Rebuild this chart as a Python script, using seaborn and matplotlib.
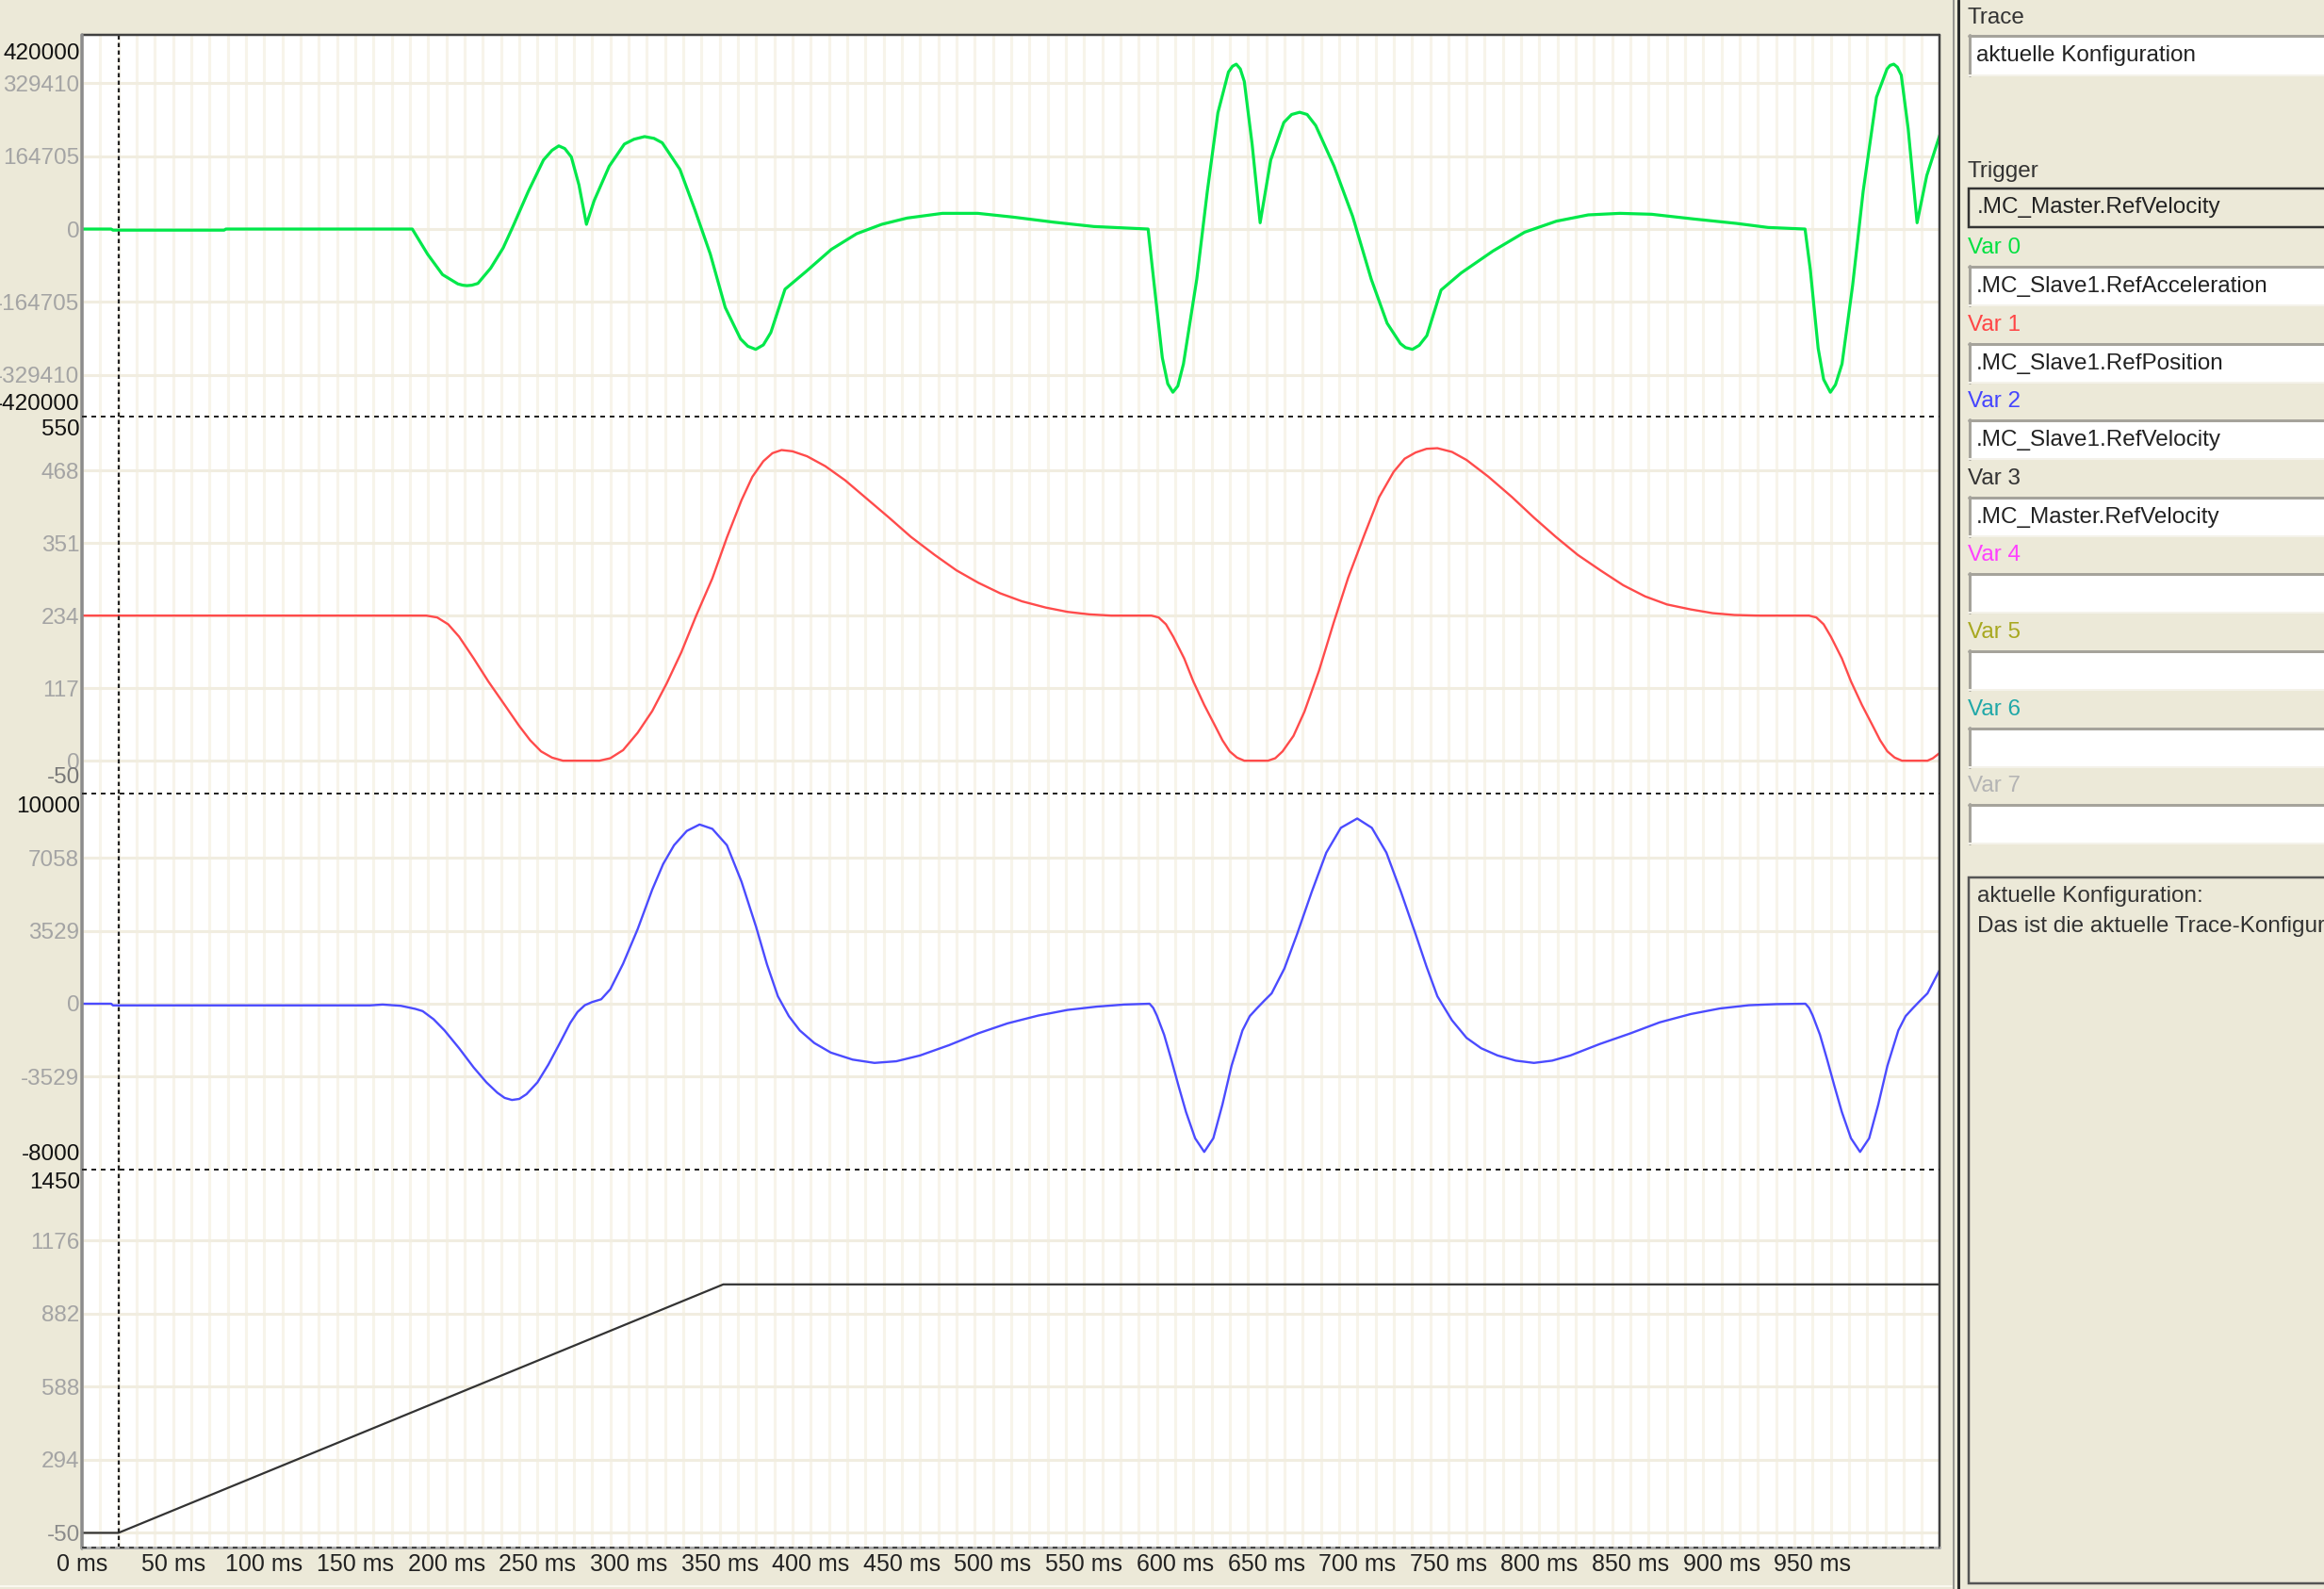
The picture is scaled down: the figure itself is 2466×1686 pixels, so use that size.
import numpy as np
import matplotlib
matplotlib.use("Agg")
import matplotlib.pyplot as plt
import seaborn as sns
from matplotlib.patches import Rectangle
from matplotlib.lines import Line2D

# ------------------------------------------------------------------ data
# Var 0 : .MC_Slave1.RefAcceleration  (time in ms)
acc_t = [0, 16, 17, 78, 79, 181.3, 189.7, 197.9, 206.3, 209.0, 211.3, 214.0, 217.3, 224.3, 231.2, 236.7,
         245.0, 253.3, 258.0, 261.7, 265.0, 268.6, 272.8, 276.9, 281.1, 289.4, 297.7, 303.0, 308.8, 314.0,
         318.5, 328.2, 336.5, 344.9, 353.1, 361.5, 365.5, 369.8, 374.0, 378.1, 385.9, 397.5, 411.3, 425.2,
         439.0, 452.9, 472.3, 491.7, 511.1, 533.2, 555.4, 585.2, 588.6, 593.0, 596.0, 598.8, 601.5, 604.6,
         611.9, 617.7, 623.5, 629.3, 631.5, 633.6, 635.8, 638.0, 642.3, 646.7, 652.5, 659.7, 664.0, 668.4,
         672.5, 677.2, 687.3, 697.5, 707.7, 716.4, 723.7, 726.5, 730.3, 734.0, 738.2, 746.0, 757.0, 774.5,
         791.9, 809.3, 826.8, 844.2, 861.6, 884.8, 908.0, 925.5, 945.8, 948.7, 953.0, 956.0, 959.7, 962.5,
         966.1, 971.9, 977.7, 985.0, 990.8, 992.5, 994.5, 996.5, 998.6, 1002.4, 1007.3, 1012.6, 1019.8]
acc_v = [0, 0, -2500, -2500, 0, 0, -56800, -103000, -124000, -127000, -128000, -127000, -123000, -88700, -42600, 7100,
         85200, 156000, 178000, 188000, 182000, 163000, 99400, 10650, 63900, 142000, 192000, 203000, 209000, 205000,
         195000, 135000, 42600, -56800, -177500, -248500, -265000, -272000, -262000, -234000, -136000, -95800, -46100, -10650,
         10650, 24850, 35500, 35500, 27000, 15600, 5700, 0, -128000, -291000, -350000, -369000, -355000, -305000,
         -113600, 85200, 262700, 355000, 368000, 372750, 362000, 333700, 191700, 14200, 156000, 241000, 259000, 264000,
         259000, 234000, 142000, 28400, -113600, -213000, -259000, -268000, -272000, -263000, -241000, -138000, -99400, -49700,
         -7100, 17750, 32000, 35500, 33400, 22700, 12800, 3550, 0, -92300, -269800, -340000, -369000, -352000,
         -305000, -128000, 85200, 298000, 362000, 370000, 372750, 366000, 348000, 227000, 14200, 120700, 213000]

# Var 1 : .MC_Slave1.RefPosition
pos_t = [0, 189, 195, 201, 207, 215, 223, 232, 240, 246, 252, 258, 264, 284,
         290, 297, 305, 313, 321, 329, 337, 346, 354, 362, 368, 374, 379, 384, 390, 398, 408, 419,
         431, 443, 455, 468, 480, 492, 504, 516, 529, 541, 553, 565, 587,
         591, 595, 599, 605, 610, 616, 622, 626, 630, 634, 638, 651,
         655, 659, 665, 671, 679, 687, 695, 704, 712, 720, 726, 732, 738, 744, 752, 760, 772, 785,
         797, 809, 821, 834, 846, 858, 870, 883, 895, 907, 920, 948,
         952, 956, 960, 966, 971, 977, 983, 987, 991, 995, 999, 1013, 1016, 1019.5]
pos_v = [234, 234, 231, 220, 200, 165, 128, 90, 56, 33, 15, 5, 0, 0,
         4, 17, 45, 80, 125, 175, 233, 294, 360, 420, 458, 483, 496, 501, 499, 491, 475, 452,
         422, 392, 361, 332, 307, 287, 270, 257, 247, 240, 236, 234, 234,
         231, 220, 200, 165, 128, 90, 56, 33, 15, 5, 0, 0,
         4, 15, 40, 79, 145, 222, 295, 365, 425, 466, 487, 497, 503, 504, 498, 485, 458, 425,
         392, 361, 332, 306, 283, 265, 252, 244, 238, 235, 234, 234,
         231, 220, 200, 165, 128, 90, 56, 33, 15, 5, 0, 0, 4, 12]

# Var 2 : .MC_Slave1.RefVelocity
vel_t = [0, 16, 17, 158, 165, 175, 183, 187, 193, 199, 207, 215, 222, 228, 232, 236, 240, 244, 250, 256,
         262, 268, 272, 276, 280, 285, 290, 297, 305, 313, 319, 325, 332, 339, 346, 354, 362, 370, 376,
         382, 388, 394, 402, 411, 423, 435, 447, 460, 476, 492, 508, 525, 541, 557, 572, 586,
         588, 590, 594, 598, 602, 606, 611, 616, 621, 626, 631, 637, 641, 645, 649, 653, 660, 667, 675,
         683, 691, 700, 708, 716, 724, 732, 738, 744, 752, 760, 768, 777, 787, 797, 807, 817, 833, 850,
         866, 883, 899, 915, 930, 946,
         948, 950, 954, 958, 962, 966, 971, 976, 981, 986, 991, 997, 1001, 1005, 1009, 1013, 1019.5]
vel_v = [0, 0, -80, -80, -40, -100, -250, -358, -750, -1290, -2150, -3080, -3800, -4300, -4550, -4650, -4600, -4370, -3800, -2940,
         -1950, -930, -400, -72, 80, 215, 700, 1930, 3600, 5510, 6750, 7660, 8350, 8660, 8450, 7660, 5900, 3720, 1900,
         358, -600, -1290, -1900, -2360, -2700, -2860, -2780, -2500, -2000, -1430, -950, -570, -300, -140, -40, 0,
         -200, -570, -1500, -2720, -4000, -5230, -6500, -7160, -6500, -4870, -3000, -1290, -600, -215, 150, 500, 1700, 3370, 5400,
         7300, 8500, 8950, 8500, 7300, 5400, 3370, 1800, 358, -800, -1650, -2150, -2500, -2750, -2860, -2750, -2500, -1950, -1430,
         -900, -500, -230, -72, -20, 0,
         -200, -570, -1500, -2720, -4000, -5230, -6500, -7160, -6500, -4870, -3000, -1290, -600, -215, 150, 500, 1600]

# Var 3 : .MC_Master.RefVelocity
mvel_t = [0, 20, 352, 1019.5]
mvel_v = [0, 0, 1000, 1000]

x_ticks = list(range(0, 951, 50))
x_labels = [f"{v} ms" for v in x_ticks]

p1_ticks = [329410, 164705, 0, -164705, -329410]
p2_ticks = [468, 351, 234, 117, 0]
p3_ticks = [7058, 3529, 0, -3529]
p4_ticks = [1176, 882, 588, 294, 0]

trace_vars = [".MC_Slave1.RefAcceleration", ".MC_Slave1.RefPosition",
              ".MC_Slave1.RefVelocity", ".MC_Master.RefVelocity", "", "", "", ""]
var_names = ["Var 0", "Var 1", "Var 2", "Var 3", "Var 4", "Var 5", "Var 6", "Var 7"]
var_colors = ["#00E040", "#FF4545", "#4545FF", "#333333", "#FF40FF", "#A8A820", "#20A8A8", "#B4B4B4"]

# ------------------------------------------------------------------ style
W, H = 2466, 1686
sns.set_style("white")
plt.rcParams["font.family"] = ["Liberation Sans", "DejaVu Sans"]
BG = "#ECE9D8"
GRID_V = "#F7F4EA"
GRID_H = "#F1EDE0"
FS = 17.5

fig = plt.figure(figsize=(W / 100, H / 100), dpi=100, facecolor=BG)

PX0, PX1 = 87, 2058
panels_px = [(37, 442), (442, 842), (842, 1241), (1241, 1642)]
ylims = [(-424000, 439000), (-53, 555), (-8015, 10155), (-59, 1462)]
ticks = [p1_ticks, p2_ticks, p3_ticks, p4_ticks]
extra = [
    [("420000", 420000, "top", "#111111"), ("-420000", -420000, "bottom", "#111111")],
    [("550", 550, "top", "#111111"), ("-50", -27, "center", "#777777")],
    [("10000", 10000, "top", "#111111"), ("-8000", -7800, "bottom", "#111111")],
    [("1450", 1450, "top", "#111111"), ("-50", -50, "bottom", "#8A8A8A")],
]
series = [(acc_t, acc_v, "#00E84A", 2.3), (pos_t, pos_v, "#FF4B4B", 1.7),
          (vel_t, vel_v, "#4B4BFF", 1.7), (mvel_t, mvel_v, "#333333", 1.6)]

axes = []
for i, (y0, y1) in enumerate(panels_px):
    ax = fig.add_axes([PX0 / W, 1 - y1 / H, (PX1 - PX0) / W, (y1 - y0) / H])
    ax.set_facecolor("white")
    t, v, c, lw = series[i]
    sns.lineplot(x=t, y=v, ax=ax, color=c, linewidth=lw, estimator=None,
                 errorbar=None, legend=False, zorder=3)
    ax.set_xlim(0, 1019.6)
    ax.set_ylim(*ylims[i])
    ax.set_xlabel("")
    ax.set_ylabel("")
    ax.set_xticks(x_ticks)
    ax.set_xticks(np.arange(0, 1020, 10), minor=True)
    ax.set_yticks(ticks[i])
    labels = [str(v) for v in ticks[i]]
    if i == 3:
        labels[-1] = ""
    ax.set_yticklabels(labels, fontsize=FS, color="#A4A4A4")
    ax.tick_params(axis="y", length=0, pad=2)
    ax.grid(True, which="both", axis="x", color=GRID_V, lw=2.2, zorder=0)
    ax.grid(True, which="major", axis="y", color=GRID_H, lw=2.2, zorder=0)
    ax.set_axisbelow(True)
    ax.tick_params(axis="x", which="minor", length=0)
    if i < 3:
        ax.tick_params(axis="x", which="major", labelbottom=False, length=0)
    else:
        ax.set_xticklabels(x_labels, fontsize=FS + 0.5, color="#222222")
        ax.tick_params(axis="x", which="major", length=3, width=1.2, color="#555555", pad=1)
    for s in ax.spines.values():
        s.set_visible(False)
    ax.axvline(20, color="#222222", lw=1.6, ls=(0, (2, 1.6)), zorder=4)
    for txt, yv, va, col in extra[i]:
        ax.annotate(txt, xy=(0, yv), xycoords=("axes fraction", "data"),
                    xytext=(-2, 0), textcoords="offset pixels",
                    ha="right", va=va, fontsize=FS, color=col, annotation_clip=False)
    axes.append(ax)

# ------------------------------------------------------------------ overlay (frame + right panel)
ov = fig.add_axes([0, 0, 1, 1])
ov.set_xlim(0, W)
ov.set_ylim(H, 0)
ov.axis("off")
ov.patch.set_alpha(0)


def px(v):
    return v * 0.72


# plot frame
ov.add_line(Line2D([PX0, PX1], [37, 37], color="#404040", lw=px(2.5)))
ov.add_line(Line2D([PX1, PX1], [37, 1642], color="#404040", lw=px(2.5)))
ov.add_line(Line2D([PX0, PX0], [37, 1643], color="#8C8C8C", lw=px(3.5)))
ov.add_line(Line2D([PX0, PX1], [1642, 1642], color="#A8A8A8", lw=px(3)))
ov.add_line(Line2D([PX0, PX1], [1642, 1642], color="#444444", lw=px(2), ls=(0, (2.5, 2.5))))
for ysep in (442, 842, 1241):
    ov.add_line(Line2D([PX0, PX1], [ysep, ysep], color="#222222", lw=px(2), ls=(0, (2.5, 2.5))))

# splitter between chart and panel
ov.add_line(Line2D([2073, 2073], [0, H], color="#7A7A7A", lw=px(1.5)))
ov.add_line(Line2D([2077.5, 2077.5], [0, H], color="#2A2A2A", lw=px(3)))
ov.add_line(Line2D([0, 2071], [1683, 1683], color="#FAF8F0", lw=px(2)))

BX0, BX1 = 2089, 2480
TFS = 17.5


def sunken_box(y0, y1, face="white"):
    ov.add_patch(Rectangle((BX0, y0), BX1 - BX0, y1 - y0, facecolor=face,
                           edgecolor="none", zorder=2))
    ov.add_line(Line2D([BX0, BX1], [y0 + 1, y0 + 1], color="#A5A39B", lw=px(3), zorder=3))
    ov.add_line(Line2D([BX0 + 1, BX0 + 1], [y0, y1], color="#A5A39B", lw=px(3), zorder=3))
    ov.add_line(Line2D([BX0, BX1], [y1, y1], color="#F4F2EA", lw=px(2), zorder=3))


ov.text(2088, 19, "Trace", fontsize=TFS, color="#333333", va="center", ha="left")
sunken_box(37, 80)
ov.text(2097, 59, "aktuelle Konfiguration", fontsize=TFS, color="#222222", va="center", ha="left", zorder=4)

ov.text(2088, 182, "Trigger", fontsize=TFS, color="#333333", va="center", ha="left")
ov.add_patch(Rectangle((BX0, 200), BX1 - BX0, 41, facecolor=BG, edgecolor="#333333",
                       lw=px(2.5), zorder=2))
ov.text(2098, 220, ".MC_Master.RefVelocity", fontsize=TFS, color="#222222", va="center", ha="left", zorder=4)

step = 81.6
for k in range(8):
    ly = 263 + k * step
    ov.text(2088, ly, var_names[k], fontsize=TFS, color=var_colors[k], va="center", ha="left")
    by0 = 282 + k * step
    sunken_box(by0, by0 + 42)
    if trace_vars[k]:
        ov.text(2097, by0 + 22, trace_vars[k], fontsize=TFS, color="#222222",
                va="center", ha="left", zorder=4)

ov.add_patch(Rectangle((BX0, 931), BX1 - BX0, 749, facecolor=BG, edgecolor="#555555",
                       lw=px(2.5), zorder=2))
ov.text(2098, 951, "aktuelle Konfiguration:", fontsize=TFS, color="#333333", va="center", ha="left", zorder=4)
ov.text(2098, 983, "Das ist die aktuelle Trace-Konfiguration.", fontsize=TFS, color="#333333",
        va="center", ha="left", zorder=4)

fig.savefig("out.png", dpi=100, facecolor=BG)
